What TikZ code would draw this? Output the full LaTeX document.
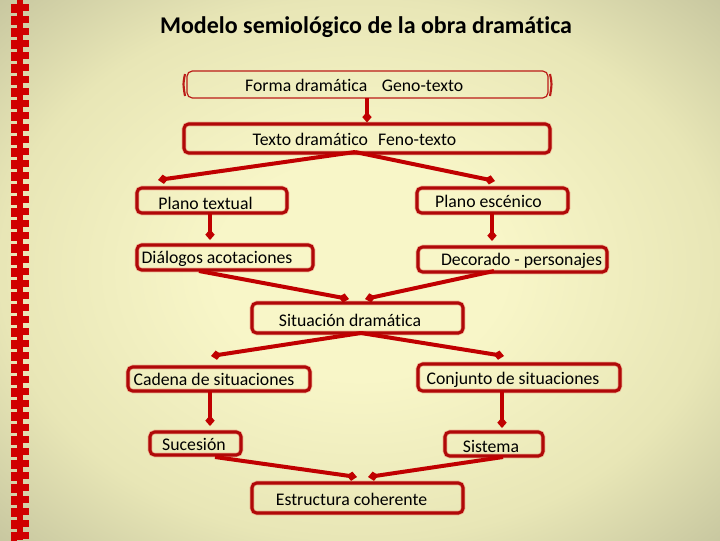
\documentclass[tikz,border=0pt]{standalone}
\usepackage{fontspec}
\setmainfont{Carlito}[Ligatures=NoCommon]
\usetikzlibrary{arrows.meta,calc}
\definecolor{bgin}{HTML}{F8F6C8}
\definecolor{bgmid}{HTML}{E8E6B6}
\definecolor{bgout}{HTML}{B4B492}
\definecolor{bgcorner}{HTML}{8E9070}
\definecolor{linered}{HTML}{C00000}
\definecolor{boxred}{HTML}{B00808}
\definecolor{glow}{HTML}{E86A5A}
\definecolor{zipred}{HTML}{D00000}
\pgfdeclareradialshading{bgshade}{\pgfpoint{0bp}{0bp}}{%
  color(0bp)=(bgin); color(10bp)=(bgin); color(25bp)=(bgmid);
  color(42bp)=(bgout); color(60bp)=(bgcorner); color(80bp)=(bgcorner)}
\newcommand\txt[3]{\hspace*{#1}\raisebox{#2}[\height][\depth]{#3}}
\tikzset{
  box/.style={draw=boxred, line width=2.3pt, rounded corners=3.5pt,
    preaction={draw=glow, line width=3.4pt, opacity=0.45},
    inner sep=0pt, font=\fontsize{13.3pt}{15pt}\selectfont},
  conn/.style={draw=linered, line width=3pt, -{Diamond[length=8pt,width=7pt]}},
  titlefont/.style={font=\fontsize{18pt}{21pt}\selectfont\bfseries}
}
\begin{document}
\begin{tikzpicture}[x=0.75pt,y=-0.75pt]
\useasboundingbox (0,0) rectangle (720,540);
% background
\shade[shading=bgshade] (0,0) rectangle (720,540);
% zipper border
\fill[zipred] (17,0) rectangle (23,540);
\foreach \k in {0,...,44}{
  \fill[zipred] (11,{4+12*\k}) rectangle (29,{11+12*\k});
  \fill[zipred] (11,{11+12*\k}) rectangle (17,{13+12*\k});
}
% title
\node[titlefont] (title) at (366,27.5) {Modelo semiológico de la obra dramática};
% box 1 (scroll-like)
\node[draw=boxred!80!glow, line width=0.9pt, rounded corners=4pt,
      minimum width=361*0.75pt, minimum height=27*0.75pt, inner sep=0pt,
      font=\fontsize{13.3pt}{15pt}\selectfont] (b1) at (367.5,84.5)
      {\txt{-20pt}{-0.5pt}{Forma dramática\hspace{0.6em} Geno-texto}};
\draw[boxred!80!glow, line width=1.6pt] (185,74) .. controls (183,84) .. (185,96);
\draw[boxred!80!glow, line width=1.6pt] (550,74) .. controls (552,84) .. (550,96);
% boxes
\node[box, minimum width=366*0.75pt, minimum height=29*0.75pt] (b2) at (367,138.5) {\txt{-18.8pt}{-0.5pt}{Texto dramático\hspace{0.35em} Feno-texto}};
\node[box, minimum width=150*0.75pt, minimum height=25*0.75pt] (b3) at (212,200.5) {\txt{-9.8pt}{-2.2pt}{Plano textual}};
\node[box, minimum width=151*0.75pt, minimum height=25*0.75pt] (b4) at (492.5,200.5) {\txt{-6pt}{-0.8pt}{Plano escénico}};
\node[box, minimum width=176*0.75pt, minimum height=25*0.75pt] (b5) at (225,257.5) {\txt{-12pt}{-1.2pt}{Diálogos acotaciones}};
\node[box, minimum width=189*0.75pt, minimum height=25*0.75pt] (b6) at (512.5,259.5) {\txt{13.5pt}{-0.8pt}{Decorado - personajes}};
\node[box, minimum width=211*0.75pt, minimum height=30*0.75pt] (b7) at (357.5,318) {\txt{-11.3pt}{-1.5pt}{Situación dramática}};
\node[box, minimum width=182*0.75pt, minimum height=24*0.75pt] (b8) at (219,379) {\txt{-7.5pt}{-0.3pt}{Cadena de situaciones}};
\node[box, minimum width=202*0.75pt, minimum height=27*0.75pt] (b9) at (519,377.5) {\txt{-9pt}{-1.5pt}{Conjunto de situaciones}};
\node[box, minimum width=91*0.75pt, minimum height=23*0.75pt] (b10) at (195.5,443.5) {\txt{-2.3pt}{-1pt}{Sucesión}};
\node[box, minimum width=98*0.75pt, minimum height=24*0.75pt] (b11) at (494,444) {\txt{-4.5pt}{-1.5pt}{Sistema}};
\node[box, minimum width=211*0.75pt, minimum height=30*0.75pt] (b12) at (357.5,498) {\txt{-9pt}{-1.2pt}{Estructura coherente}};
% connector coordinates
\coordinate (c1s) at (367,98);
\coordinate (c2s) at (355,152);
\coordinate (t3) at (158,180);
\coordinate (t4) at (495,181);
\coordinate (s3) at (210,213);
\coordinate (t5) at (210,240);
\coordinate (s4) at (492,213);
\coordinate (t6) at (492,241);
\coordinate (s5) at (199,271);
\coordinate (s6) at (494,271);
\coordinate (t7a) at (349,299);
\coordinate (t7b) at (365,299);
\coordinate (s7) at (361,333);
\coordinate (t8) at (211,356);
\coordinate (t9) at (504,356);
\coordinate (s8) at (210,391);
\coordinate (t10) at (210,426);
\coordinate (s9) at (502,391);
\coordinate (t11) at (502,428);
\coordinate (s10) at (215,457);
\coordinate (s11) at (503,457);
\coordinate (t12a) at (357,477);
\coordinate (t12b) at (368,477);
% connectors
\draw[conn] (c1s) -- (c1s |- b2.north);
\draw[conn] (c2s) -- (t3);
\draw[conn] (c2s) -- (t4);
\draw[conn] (s3) -- (t5);
\draw[conn] (s4) -- (t6);
\draw[conn] (s5) -- (t7a);
\draw[conn] (s6) -- (t7b);
\draw[conn] (s7) -- (t8);
\draw[conn] (s7) -- (t9);
\draw[conn] (s8) -- (t10);
\draw[conn] (s9) -- (t11);
\draw[conn] (s10) -- (t12a);
\draw[conn] (s11) -- (t12b);
\end{tikzpicture}
\end{document}
